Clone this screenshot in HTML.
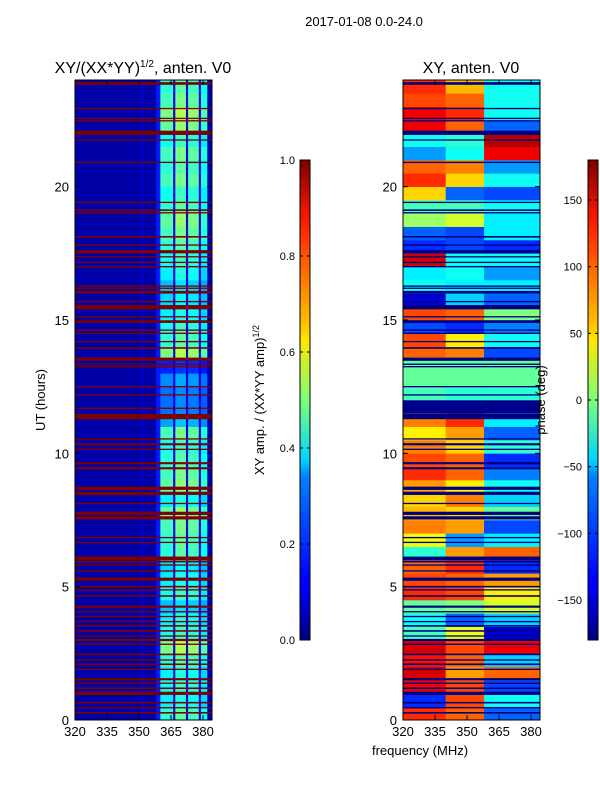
<!DOCTYPE html>
<html><head><meta charset="utf-8"><style>
html,body{margin:0;padding:0;background:#fff;}
svg{display:block;font-family:"Liberation Sans","DejaVu Sans",sans-serif;}
</style></head><body>
<svg id="fig" width="600" height="800" viewBox="0 0 600 800">
<defs>
<linearGradient id="jet" x1="0" y1="1" x2="0" y2="0">
<stop offset="0" stop-color="#00007f"/><stop offset="0.11" stop-color="#0000ff"/><stop offset="0.125" stop-color="#0000ff"/>
<stop offset="0.34" stop-color="#0080ff"/><stop offset="0.375" stop-color="#00d4ff"/><stop offset="0.5" stop-color="#7dff7a"/>
<stop offset="0.625" stop-color="#ffe600"/><stop offset="0.66" stop-color="#ffc000"/><stop offset="0.875" stop-color="#ff1800"/><stop offset="1" stop-color="#7f0000"/>
</linearGradient>
</defs>
<text x="364" y="26" font-size="13" text-anchor="middle">2017-01-08 0.0-24.0</text>
<g id="left"></g>
<g id="right"></g>
<text x="143" y="73" font-size="16" text-anchor="middle">XY/(XX*YY)<tspan font-size="10" dy="-6">1/2</tspan><tspan dy="6">, anten. V0</tspan></text>
<text x="471" y="73" font-size="16" text-anchor="middle">XY, anten. V0</text>
<text transform="translate(45,400) rotate(-90)" font-size="13" text-anchor="middle">UT (hours)</text>
<text x="420" y="755" font-size="13" text-anchor="middle">frequency (MHz)</text>
<rect x="300" y="160" width="10" height="480" fill="url(#jet)" stroke="#000" stroke-width="1"/>
<rect x="588" y="160" width="10" height="480" fill="url(#jet)" stroke="#000" stroke-width="1"/>
<text transform="translate(264,400) rotate(-90)" font-size="13" text-anchor="middle">XY amp. / (XX*YY amp)<tspan font-size="9" dy="-5">1/2</tspan></text>
<text transform="translate(545,400) rotate(-90)" font-size="13" text-anchor="middle">phase (deg)</text>
<g id="cb"></g>
</svg>
<script>
// ---- data ----
const utTicks = [0, 5, 10, 15, 20];
const freqTicks = [320, 335, 350, 365, 380];
const ampTicks = [0.0, 0.2, 0.4, 0.6, 0.8, 1.0];
const phaseTicks = [-150, -100, -50, 0, 50, 100, 150];
// amplitude spectrum segments (start MHz, amplitude)
const segFreq = [320, 351, 352, 358, 360, 366, 367, 372, 373, 378, 379, 382];
const segAmp  = [0.04, 0.08, 0.04, 0.15, 0.52, 0.1, 0.58, 0.1, 0.55, 0.1, 0.48, 0.05];
// per 0.5h row brightness of the continuum band (UT 0 -> 24)
const rowScale = [0.8,0.7,0.75,0.7,0.8,0.95,0.75,0.7,0.6,0.75,0.7,0.65,0.8,0.8,0.85,0.9,0.7,0.9,0.85,0.8,0.75,0.85,0.55,0.45,0.45,0.5,0.3,0.95,0.8,0.75,0.7,0.65,0.6,0.7,0.75,0.8,0.85,0.9,0.8,0.75,0.85,0.8,0.85,0.75,0.9,0.95,0.85,0.8];
// flagged intervals: centre UT and duration (hours)
const flagUT  = [23.87,22.93,22.56,22.47,22.02,21.75,20.91,19.41,19.12,19.02,18.12,17.81,17.56,17.37,17.16,17.0,16.27,16.19,16.04,15.69,15.48,15.12,14.94,14.62,14.5,14.19,13.95,13.53,13.34,13.25,12.5,12.19,11.69,11.38,10.54,10.34,10.15,9.63,9.44,8.69,8.5,8.12,7.75,7.58,6.84,6.66,6.06,5.94,5.81,5.59,5.28,5.0,4.88,4.65,4.25,4.06,3.88,3.69,3.53,3.34,3.15,3.0,2.84,2.46,2.25,2.09,1.9,1.53,1.38,1.19,1.0,0.65,0.46,0.27];
const flagDur = [0.1,0.05,0.05,0.05,0.16,0.05,0.05,0.05,0.06,0.05,0.06,0.05,0.12,0.05,0.05,0.05,0.05,0.05,0.1,0.05,0.16,0.05,0.1,0.05,0.05,0.05,0.06,0.12,0.05,0.05,0.05,0.05,0.05,0.2,0.05,0.08,0.05,0.08,0.08,0.12,0.12,0.05,0.12,0.12,0.05,0.05,0.14,0.06,0.05,0.05,0.12,0.06,0.05,0.06,0.08,0.05,0.05,0.05,0.06,0.06,0.05,0.08,0.05,0.06,0.05,0.06,0.05,0.08,0.05,0.06,0.12,0.06,0.05,0.06];
// phase (deg) per 0.5h row for three frequency bands
const phaseBandFreq = [320, 340, 358];
const phaseLo  = [120,-120,140,150,130,150,-20,-40,-10,120,110,100,-30,40,90,70,60,80,120,110,90,50,90,-175,-20,-10,-10,100,110,-110,110,-150,-40,-50,150,-120,-100,10,-20,60,120,100,-80,-40,140,140,110,120];
const phaseMid = [100,110,110,80,100,110,40,-100,0,110,100,120,80,-80,80,60,90,50,100,100,60,80,120,-175,-30,-10,-10,90,50,-120,100,-60,-50,-40,-40,-110,-110,30,-20,-100,60,90,-40,-30,100,120,100,70];
const phaseHi  = [-100,-40,-110,100,-60,140,-150,-60,30,50,80,-120,100,-50,-110,-10,-60,-40,-90,-120,-30,-100,-50,-175,-30,-10,-10,-110,-40,-90,0,-100,-50,-80,-40,-120,-50,-50,-40,-110,-40,-80,140,160,-100,-40,-40,-40];

// ---- helpers ----
function jet(v){v=Math.max(0,Math.min(1,v));
 const r=Math.min(4*v-1.5,-4*v+4.5),g=Math.min(4*v-0.5,-4*v+3.5),b=Math.min(4*v+0.5,-4*v+2.5);
 const c=x=>Math.round(255*Math.max(0,Math.min(1,x)));return 'rgb('+c(r)+','+c(g)+','+c(b)+')';}
const NS='http://www.w3.org/2000/svg';
function mk(tag,attrs,parent){const e=document.createElementNS(NS,tag);for(const k in attrs)e.setAttribute(k,attrs[k]);parent.appendChild(e);return e;}
const T0=80,T1=720,F0=320,F1=384.2;
function yOf(ut){return T1-(ut/24)*(T1-T0);}
function xOf(f,x0){return x0+(f-F0)/(F1-F0)*137;}

function drawPanel(g,x0,isPhase){
 mk('rect',{x:x0,y:T0,width:137,height:640,fill:'#00008f'},g);
 for(let i=0;i<48;i++){
  const y1=yOf(i*0.5+0.5),y2=yOf(i*0.5);
  if(!isPhase){
   for(let j=0;j<segFreq.length;j++){
    const fs=segFreq[j],fe=j+1<segFreq.length?segFreq[j+1]:F1;
    const a=segAmp[j];const v=a>0.3?a*rowScale[i]:a;
    const r=mk('rect',{x:xOf(fs,x0),y:y1,width:xOf(fe,x0)-xOf(fs,x0)+0.3,height:y2-y1+0.3,fill:jet(v)},g);
    
    
   }
  } else {
   const vals=[phaseLo[i],phaseMid[i],phaseHi[i]];
   for(let j=0;j<3;j++){
    const fs=phaseBandFreq[j],fe=j<2?phaseBandFreq[j+1]:F1;
    const r=mk('rect',{x:xOf(fs,x0),y:y1,width:xOf(fe,x0)-xOf(fs,x0)+0.3,height:y2-y1+0.3,fill:jet((vals[j]+180)/360)},g);
    
    
   }
  }
 }
 for(let k=0;k<flagUT.length;k++){
  const ya=yOf(flagUT[k]+flagDur[k]/2),yb=yOf(flagUT[k]-flagDur[k]/2);
  const r=mk('rect',{x:x0,y:ya,width:137,height:Math.max(1.2,yb-ya),fill:isPhase?'#00007f':'#7f0000'},g);
  
  
 }
 mk('rect',{x:x0,y:T0,width:137,height:640,fill:'none',stroke:'#000','stroke-width':1},g);
 utTicks.forEach(u=>{const y=yOf(u);
  mk('line',{x1:x0,x2:x0+5,y1:y,y2:y,stroke:'#000'},g);mk('line',{x1:x0+137,x2:x0+132,y1:y,y2:y,stroke:'#000'},g);
  const t=mk('text',{x:x0-6,y:y+5,'font-size':13,'text-anchor':'end'},g);t.textContent=u;
  
  });
 freqTicks.forEach(f=>{const x=xOf(f,x0);
  mk('line',{x1:x,x2:x,y1:T1,y2:T1-5,stroke:'#000'},g);mk('line',{x1:x,x2:x,y1:T0,y2:T0+5,stroke:'#000'},g);
  const t=mk('text',{x:x,y:T1+16,'font-size':13,'text-anchor':'middle'},g);t.textContent=f;
  
  });
}
drawPanel(document.getElementById('left'),75,false);
drawPanel(document.getElementById('right'),403,true);
const cb=document.getElementById('cb');
ampTicks.forEach(v=>{const y=640-v*480;
 mk('line',{x1:300,x2:303,y1:y,y2:y,stroke:'#000'},cb);mk('line',{x1:310,x2:307,y1:y,y2:y,stroke:'#000'},cb);
 const t=mk('text',{x:295,y:y+4,'font-size':11,'text-anchor':'end'},cb);t.textContent=v.toFixed(1);
 
 });
phaseTicks.forEach(v=>{const y=640-(v+180)/360*480;
 mk('line',{x1:588,x2:591,y1:y,y2:y,stroke:'#000'},cb);mk('line',{x1:598,x2:595,y1:y,y2:y,stroke:'#000'},cb);
 const t=mk('text',{x:582,y:y+4,'font-size':11,'text-anchor':'end'},cb);t.textContent=v<0?'\u2212'+(-v):v;
 
 });
</script>
</body></html>
